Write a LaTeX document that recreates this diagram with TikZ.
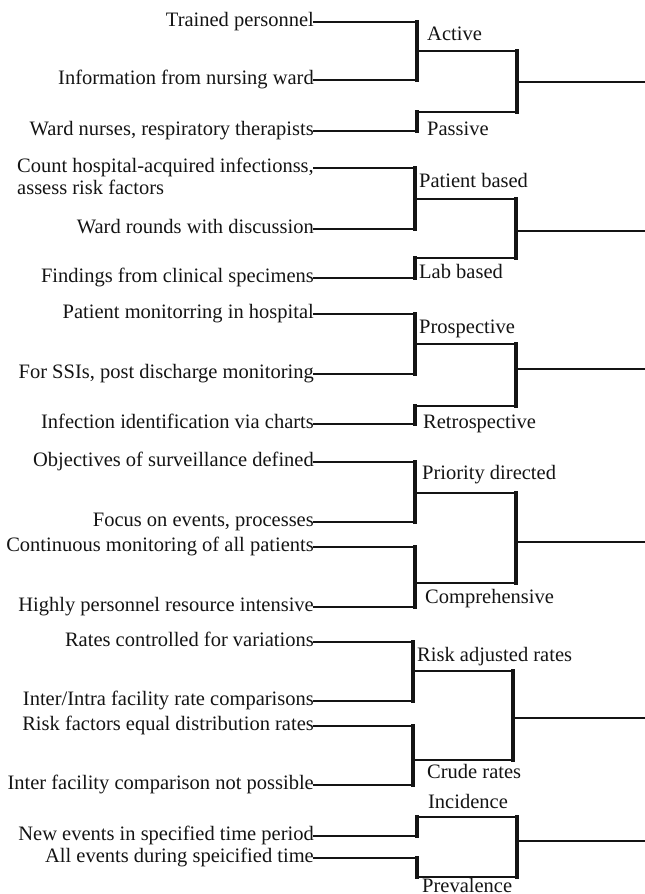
\documentclass[tikz,border=0pt]{standalone}
\usepackage{fontspec}
\setmainfont{Liberation Serif}
\begin{document}
\begin{tikzpicture}[x=1pt,y=-1pt,
  every node/.style={font=\fontsize{20.5}{24}\selectfont, inner sep=0pt, text height=13pt, text depth=4pt, text=black!92},
  leaf/.style={anchor=east},
  lab/.style={anchor=west},
  hl/.style={line width=2.6pt, line cap=rect, black!92},
  vl/.style={line width=4pt, line cap=rect, black!92},
  outl/.style={line width=2pt, black!92}]
\useasboundingbox (0,0) rectangle (645,894);

% ---------- Group 1: Active / Passive ----------
\node[leaf] (a1) at (314,22) {Trained personnel};
\node[leaf] (a2) at (314,80) {Information from nursing ward};
\node[leaf] (a3) at (314,131) {Ward nurses, respiratory therapists};
\coordinate (ab1) at (417,22); \coordinate (ab2) at (417,80);
\coordinate (aj) at (417,51); \coordinate (ac1) at (517,51); \coordinate (ac2) at (517,112);
\coordinate (ap1) at (417,112); \coordinate (ap2) at (417,131);
\coordinate (ao) at (517,82); \coordinate (ae) at (645,82);
\draw[hl] (a1.east) -- (ab1); \draw[hl] (a2.east) -- (ab2); \draw[vl] (ab1) -- (ab2);
\draw[hl] (aj) -- (ac1); \draw[vl] (ac1) -- (ac2); \draw[hl] (ac2) -- (ap1);
\draw[vl] (ap1) -- (ap2); \draw[hl] (ap2) -- (a3.east);
\draw[outl] (ao) -- (ae);
\node[lab] (active) at (427,36) {Active};
\node[lab] (passive) at (427,131) {Passive};

% ---------- Group 2: Patient based / Lab based ----------
\node[leaf] (b1) at (314,168) {Count hospital-acquired infectionss,};
\node[lab] (b1b) at ([yshift=-22pt]b1.west) {assess risk factors};
\node[leaf] (b2) at (314,229) {Ward rounds with discussion};
\node[leaf] (b3) at (314,278) {Findings from clinical specimens};
\coordinate (bb1) at (415,168); \coordinate (bb2) at (415,229);
\coordinate (bj) at (415,199); \coordinate (bc1) at (516,199); \coordinate (bc2) at (516,258);
\coordinate (bp1) at (415,258); \coordinate (bp2) at (415,278);
\coordinate (bo) at (516,231); \coordinate (be) at (645,231);
\draw[hl] (b1.east) -- (bb1); \draw[hl] (b2.east) -- (bb2); \draw[vl] (bb1) -- (bb2);
\draw[hl] (bj) -- (bc1); \draw[vl] (bc1) -- (bc2); \draw[hl] (bc2) -- (bp1);
\draw[vl] (bp1) -- (bp2); \draw[hl] (bp2) -- (b3.east);
\draw[outl] (bo) -- (be);
\node[lab] (patient) at (419,183) {Patient based};
\node[lab] (labb) at (419,274) {Lab based};

% ---------- Group 3: Prospective / Retrospective ----------
\node[leaf] (c1) at (314,314) {Patient monitorring in hospital};
\node[leaf] (c2) at (314,374) {For SSIs, post discharge monitoring};
\node[leaf] (c3) at (314,424) {Infection identification via charts};
\coordinate (cb1) at (415,314); \coordinate (cb2) at (415,374);
\coordinate (cj) at (415,344); \coordinate (cc1) at (516,344); \coordinate (cc2) at (516,406);
\coordinate (cp1) at (415,406); \coordinate (cp2) at (415,424);
\coordinate (co) at (516,369); \coordinate (ce) at (645,369);
\draw[hl] (c1.east) -- (cb1); \draw[hl] (c2.east) -- (cb2); \draw[vl] (cb1) -- (cb2);
\draw[hl] (cj) -- (cc1); \draw[vl] (cc1) -- (cc2); \draw[hl] (cc2) -- (cp1);
\draw[vl] (cp1) -- (cp2); \draw[hl] (cp2) -- (c3.east);
\draw[outl] (co) -- (ce);
\node[lab] (prosp) at (419,329) {Prospective};
\node[lab] (retro) at (423,424) {Retrospective};

% ---------- Group 4: Priority directed / Comprehensive ----------
\node[leaf] (d1) at (314,462) {Objectives of surveillance defined};
\node[leaf] (d2) at (314,522) {Focus on events, processes};
\node[leaf] (d3) at (314,547) {Continuous monitoring of all patients};
\node[leaf] (d4) at (314,607) {Highly personnel resource intensive};
\coordinate (db1) at (415,462); \coordinate (db2) at (415,522);
\coordinate (db3) at (415,547); \coordinate (db4) at (415,607);
\coordinate (dj1) at (415,493); \coordinate (dj2) at (415,583);
\coordinate (dc1) at (516,493); \coordinate (dc2) at (516,583);
\coordinate (do) at (516,542); \coordinate (de) at (645,542);
\draw[hl] (d1.east) -- (db1); \draw[hl] (d2.east) -- (db2); \draw[vl] (db1) -- (db2);
\draw[hl] (d3.east) -- (db3); \draw[hl] (d4.east) -- (db4); \draw[vl] (db3) -- (db4);
\draw[hl] (dj1) -- (dc1); \draw[hl] (dj2) -- (dc2); \draw[vl] (dc1) -- (dc2);
\draw[outl] (do) -- (de);
\node[lab] (prio) at (422,475) {Priority directed};
\node[lab] (compr) at (425,599) {Comprehensive};

% ---------- Group 5: Risk adjusted / Crude rates ----------
\node[leaf] (e1) at (314,642) {Rates controlled for variations};
\node[leaf] (e2) at (314,701) {Inter/Intra facility rate comparisons};
\node[leaf] (e3) at (314,726) {Risk factors equal distribution rates};
\node[leaf] (e4) at (314,785) {Inter facility comparison not possible};
\coordinate (eb1) at (413,642); \coordinate (eb2) at (413,701);
\coordinate (eb3) at (413,726); \coordinate (eb4) at (413,785);
\coordinate (ej1) at (413,671); \coordinate (ej2) at (413,760);
\coordinate (ec1) at (513,671); \coordinate (ec2) at (513,760);
\coordinate (eo) at (513,718); \coordinate (ee) at (645,718);
\draw[hl] (e1.east) -- (eb1); \draw[hl] (e2.east) -- (eb2); \draw[vl] (eb1) -- (eb2);
\draw[hl] (e3.east) -- (eb3); \draw[hl] (e4.east) -- (eb4); \draw[vl] (eb3) -- (eb4);
\draw[hl] (ej1) -- (ec1); \draw[hl] (ej2) -- (ec2); \draw[vl] (ec1) -- (ec2);
\draw[outl] (eo) -- (ee);
\node[lab] (risk) at (417,657) {Risk adjusted rates};
\node[lab] (crude) at (427,774) {Crude rates};

% ---------- Group 6: Incidence / Prevalence ----------
\node[leaf] (f1) at (314,836) {New events in specified time period};
\node[leaf] (f2) at (314,858) {All events during speicified time};
\coordinate (fb1) at (417,836); \coordinate (fu) at (417,817);
\coordinate (fc1) at (517,817); \coordinate (fc2) at (517,877);
\coordinate (fd) at (417,877); \coordinate (fb2) at (417,858);
\coordinate (fo) at (517,841); \coordinate (fe) at (645,841);
\draw[hl] (f1.east) -- (fb1); \draw[vl] (fb1) -- (fu); \draw[hl] (fu) -- (fc1);
\draw[vl] (fc1) -- (fc2); \draw[hl] (fc2) -- (fd); \draw[vl] (fd) -- (fb2);
\draw[hl] (fb2) -- (f2.east);
\draw[outl] (fo) -- (fe);
\node (incid) at (468,804) {Incidence};
\node[lab] (preval) at (422,888) {Prevalence};
\end{tikzpicture}
\end{document}
